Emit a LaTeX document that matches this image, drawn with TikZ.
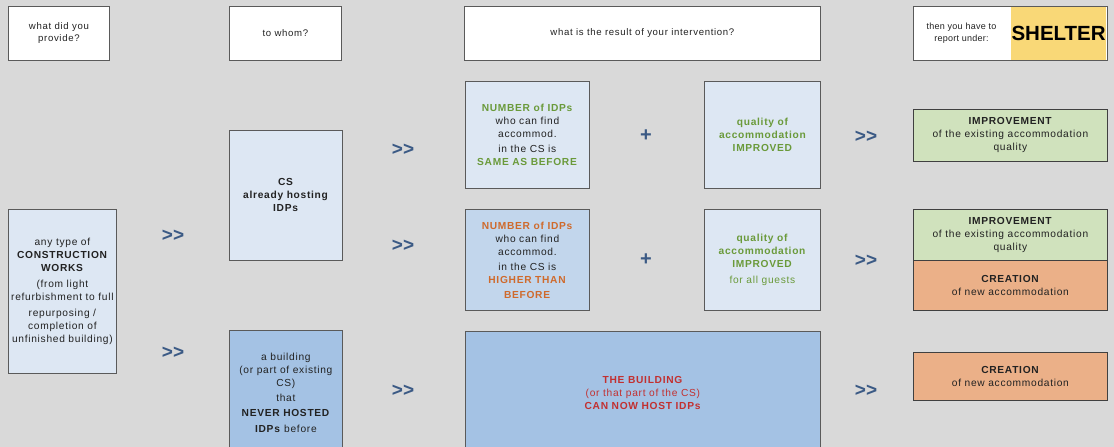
\documentclass[tikz,border=0pt]{standalone}
\usepackage{fontspec}
\setmainfont{Liberation Sans}[LetterSpace=7]
\definecolor{bg}{HTML}{D9D9D9}
\definecolor{lblue}{HTML}{DDE7F3}
\definecolor{mblue}{HTML}{C2D6EC}
\definecolor{dblue}{HTML}{A4C2E4}
\definecolor{gfill}{HTML}{D0E2BD}
\definecolor{ofill}{HTML}{EBB088}
\definecolor{yfill}{HTML}{F9D877}
\definecolor{gtext}{HTML}{6A9A3A}
\definecolor{otext}{HTML}{CF6A2C}
\definecolor{rtext}{HTML}{C23030}
\definecolor{arrowblue}{HTML}{3B5A85}
\definecolor{btext}{HTML}{222222}
\definecolor{boxline}{HTML}{5A5A5A}
\definecolor{darkline}{HTML}{404040}
\newcommand\fs{\fontsize{10.2}{13}\selectfont}
\newcommand\hs{\fontsize{9.6}{12}\selectfont}
\begin{document}
\begin{tikzpicture}[x=1pt,y=-1pt,
  box/.style={draw=boxline, line width=0.8pt, anchor=north west, inner sep=0pt,
    align=center, font=\fs, text=btext},
  rbox/.style={box, draw=darkline},
  hdr/.style={box, fill=white, font=\hs},
  chev/.style={font=\fontsize{19}{19}\selectfont\bfseries\addfontfeatures{LetterSpace=0}, text=arrowblue, inner sep=0pt},
  plus/.style={font=\fontsize{20}{20}\selectfont\bfseries\addfontfeatures{LetterSpace=0}, text=arrowblue, inner sep=0pt}]
\fill[bg] (0,0) rectangle (1114,447);
\useasboundingbox (0,0) rectangle (1114,447);
\clip (0,0) rectangle (1114,447);

% headers
\node[hdr, minimum width=101pt, minimum height=54pt] (h1) at (8,6) {what did you\\provide?};
\node[hdr, minimum width=112pt, minimum height=54pt] (h2) at (229,6) {to whom?};
\node[hdr, minimum width=356pt, minimum height=54pt] (h3) at (464,6) {what is the result of your intervention?};
\node[hdr, minimum width=194pt, minimum height=54pt] (h4) at (913,6) {};
\node[anchor=north west, fill=yfill, inner sep=0pt, minimum width=95.6pt, minimum height=53.2pt,
  font=\fontsize{20.5}{20}\selectfont\bfseries\addfontfeatures{LetterSpace=0}] (shelter) at (1010.6,6.4) {SHELTER};
\node[font=\fontsize{9}{12}\selectfont\addfontfeatures{LetterSpace=3}, align=center, text=btext, inner sep=0pt] (rep) at (961.5,33) {then you have to\\report under:};

% column 1
\node[box, fill=lblue, minimum width=108pt, minimum height=164pt] (works) at (8,209)
  {any type of\\\textbf{CONSTRUCTION}\\\textbf{WORKS}\\[3pt](from light\\refurbishment to full\\[3pt]repurposing /\\completion of\\unfinished building)};

\node[chev] (c1) at (173,236) {{>}{>}};
\node[chev] (c2) at (173,353) {{>}{>}};

% column 2
\node[box, fill=lblue, minimum width=113pt, minimum height=130pt] (cs) at (229,130)
  {\textbf{CS}\\\textbf{already hosting}\\\textbf{IDPs}};
\node[box, fill=dblue, minimum width=113pt, minimum height=125pt] (bld) at (229,330)
  {a building\\(or part of existing\\CS)\\[2pt]that\\[2pt]\textbf{NEVER HOSTED}\\[3pt]\textbf{IDPs} before};

\node[chev] (c3) at (403,150) {{>}{>}};
\node[chev] (c4) at (403,246) {{>}{>}};
\node[chev] (c5) at (403,391) {{>}{>}};

% column 3
\node[box, fill=lblue, minimum width=124pt, minimum height=107pt] (n1) at (465,81)
  {\textcolor{gtext}{\textbf{NUMBER of IDPs}}\\who can find\\accommod.\\[2pt]in the CS is\\\textcolor{gtext}{\textbf{SAME AS BEFORE}}};
\node[plus] (p1) at (646,136) {+};
\node[box, fill=lblue, minimum width=116pt, minimum height=107pt, text=gtext, font=\fs\bfseries] (q1) at (704,81)
  {quality of\\accommodation\\IMPROVED};

\node[box, fill=mblue, minimum width=124pt, minimum height=101pt] (n2) at (465,209)
  {\textcolor{otext}{\textbf{NUMBER of IDPs}}\\who can find\\accommod.\\[2pt]in the CS is\\\textcolor{otext}{\textbf{HIGHER THAN}}\\[2pt]\textcolor{otext}{\textbf{BEFORE}}};
\node[plus] (p2) at (646,260) {+};
\node[box, fill=lblue, minimum width=116pt, minimum height=101pt, text=gtext] (q2) at (704,209)
  {\textbf{quality of}\\\textbf{accommodation}\\\textbf{IMPROVED}\\[3pt]for all guests};

\node[box, fill=dblue, minimum width=355pt, minimum height=124pt, text=rtext] (big) at (465,331)
  {\textbf{THE BUILDING}\\(or that part of the CS)\\\textbf{CAN NOW HOST IDPs}};

\node[chev] (c6) at (866,137) {{>}{>}};
\node[chev] (c7) at (866,261) {{>}{>}};
\node[chev] (c8) at (866,391) {{>}{>}};

% column 4
\node[rbox, fill=gfill, minimum width=194pt, minimum height=52pt] (imp1) at (913,109)
  {\textbf{IMPROVEMENT}\\of the existing accommodation\\quality};
\node[rbox, fill=gfill, minimum width=194pt, minimum height=51pt] (imp2) at (913,209)
  {\textbf{IMPROVEMENT}\\of the existing accommodation\\quality};
\node[rbox, fill=ofill, minimum width=194pt, minimum height=50pt] (cre1) at (913,260)
  {\textbf{CREATION}\\of new accommodation};
\node[rbox, fill=ofill, minimum width=194pt, minimum height=48pt] (cre2) at (913,352)
  {\textbf{CREATION}\\of new accommodation};
\end{tikzpicture}
\end{document}
